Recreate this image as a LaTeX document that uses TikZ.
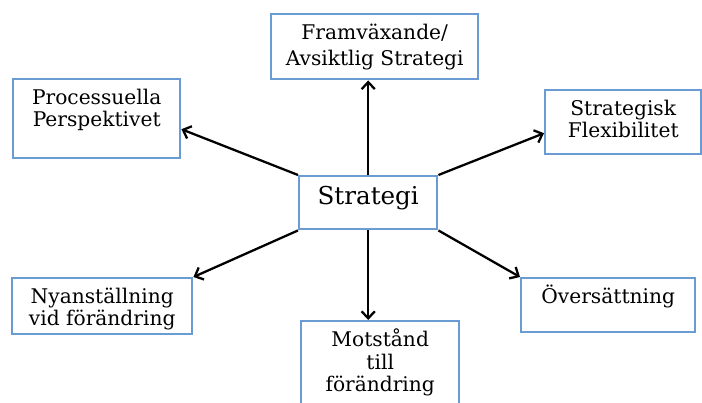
\documentclass[tikz,border=0pt]{standalone}
\usepackage{fontspec}
\setmainfont{DejaVu Serif}
\usepackage{tikz}
\usetikzlibrary{arrows.meta,positioning}
\definecolor{ruta-blue}{HTML}{6A9BD3}
\newcommand{\rutatext}[3]{\parbox[c][#2][t]{#1}{\centering\fontsize{11.5}{12.5}\selectfont\rule{0pt}{0.5cm}#3}}

\begin{document}
\begin{tikzpicture}[x=0.02cm, y=-0.02cm,
  ruta/.style={draw=ruta-blue, line width=1.4pt, inner sep=0pt, anchor=north west},
  pil/.style={-{Straight Barb[length=4pt,width=7.5pt]}, line width=1.3pt, color=black}]
\clip (0,0) rectangle (702,402);
\node[ruta, minimum width=2.76cm, minimum height=1.06cm, font=\fontsize{14}{16}\selectfont, text height=6pt, text depth=4pt] (strat) at (298,175) {Strategi};
\node[ruta] (fram) at (270,13) {\rutatext{4.14cm}{1.30cm}{Framväxande/\\[2.3pt]Avsiktlig Strategi}};
\node[ruta] (proc) at (12,78) {\rutatext{3.34cm}{1.58cm}{Processuella\\Perspektivet}};
\node[ruta] (flex) at (544,89) {\rutatext{3.12cm}{1.28cm}{Strategisk\\Flexibilitet}};
\node[ruta] (nyan) at (11,277) {\rutatext{3.6cm}{1.12cm}{Nyanställning\\vid förändring}};
\node[ruta] (mot) at (300,320) {\rutatext{3.16cm}{1.8cm}{Motstånd\\[0.5pt]till\\[0.5pt]förändring}};
\node[ruta] (over) at (520,277) {\rutatext{3.48cm}{1.08cm}{Översättning}};
%\draw[pil] (strat) -- (fram);
\draw[pil] (strat.north) -- (strat.north |- fram.south);
\draw[pil] (strat.south) -- (strat.south |- mot.north);
\draw[pil] (strat.north west) -- ([yshift=-0.21cm]proc.east);
\draw[pil] (strat.north east) -- ([yshift=-0.22cm]flex.west);
\draw[pil] (strat.south west) -- (nyan.north east);
\draw[pil] (strat.south east) -- (over.north west);
\end{tikzpicture}
\end{document}
